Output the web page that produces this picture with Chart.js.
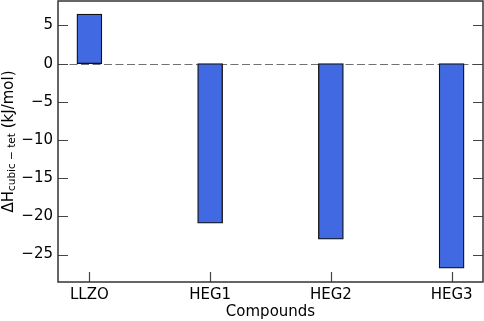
<!DOCTYPE html>
<html>
<head>
<meta charset="utf-8">
<script src="https://cdn.jsdelivr.net/npm/chart.js@4.4.0/dist/chart.umd.min.js"></script>
<style>
  html, body { margin: 0; padding: 0; background: #fff; }
  #wrap { width: 484px; height: 321px; }
</style>
</head>
<body>
<div id="wrap"><canvas id="enthalpyChart" width="484" height="321"></canvas></div>
<script>
const compounds = ['LLZO', 'HEG1', 'HEG2', 'HEG3'];
const deltaH = [6.5, -20.9, -23.0, -26.8];
const yTicks = [-25, -20, -15, -10, -5, 0, 5];

const FONT = 'DejaVu Sans';
const SPINE = '#333';

// frame, inward ticks, zero line, rotated y label with subscript
const framePlugin = {
    id: 'frame',
    beforeDatasetsDraw(chart) {
        const { ctx, chartArea: a, scales } = chart;
        const y0 = Math.round(scales.y.getPixelForValue(0)) + 0.5;
        ctx.save();
        ctx.strokeStyle = '#707070';
        ctx.lineWidth = 1.2;
        ctx.setLineDash([8, 3.5]);
        ctx.beginPath();
        ctx.moveTo(a.left, y0);
        ctx.lineTo(a.right, y0);
        ctx.stroke();
        ctx.restore();
    },
    afterDraw(chart) {
        const { ctx, chartArea: a, scales } = chart;
        ctx.save();
        ctx.strokeStyle = '#444';
        ctx.lineWidth = 1.2;
        ctx.beginPath();
        yTicks.forEach(v => {
            const py = Math.round(scales.y.getPixelForValue(v)) + 0.5;
            ctx.moveTo(a.left, py); ctx.lineTo(a.left + 10, py);
            ctx.moveTo(a.right, py); ctx.lineTo(a.right - 10, py);
        });
        compounds.forEach((c, i) => {
            const px = Math.round(scales.x.getPixelForValue(i)) + 0.5;
            ctx.moveTo(px, a.bottom); ctx.lineTo(px, a.bottom - 10);
        });
        ctx.stroke();

        ctx.strokeStyle = SPINE;
        ctx.lineWidth = 1.5;
        ctx.strokeRect(a.left, a.top, a.right - a.left, a.bottom - a.top);

        // y axis title
        const parts = [
            { t: 'ΔH', size: 15, dy: 0 },
            { t: 'cubic − tet', size: 10.5, dy: 3.5 },
            { t: ' (kJ/mol)', size: 15, dy: 0 }
        ];
        let total = 0;
        parts.forEach(p => {
            ctx.font = p.size + 'px "' + FONT + '"';
            p.w = ctx.measureText(p.t).width;
            total += p.w;
        });
        ctx.translate(9, (a.top + a.bottom) / 2);
        ctx.rotate(-Math.PI / 2);
        ctx.fillStyle = '#000';
        ctx.textBaseline = 'middle';
        ctx.textAlign = 'left';
        let x = -total / 2;
        parts.forEach(p => {
            ctx.font = p.size + 'px "' + FONT + '"';
            ctx.fillText(p.t, x, p.dy);
            x += p.w;
        });
        ctx.restore();
    }
};

const ctx = document.getElementById('enthalpyChart').getContext('2d');
new Chart(ctx, {
    type: 'bar',
    data: {
        datasets: [{
            data: deltaH.map((v, i) => ({ x: i, y: v })),
            backgroundColor: '#4169E1',
            borderColor: '#111',
            borderWidth: 1.3,
            borderSkipped: false,
            barThickness: 25
        }]
    },
    options: {
        responsive: false,
        animation: false,
        layout: { padding: { top: 1, right: 1, left: 0, bottom: 0 } },
        plugins: {
            legend: { display: false },
            tooltip: { enabled: false }
        },
        scales: {
            x: {
                type: 'linear',
                min: -0.26,
                max: 3.26,
                offset: false,
                grid: { display: false, drawTicks: false },
                border: { display: false },
                ticks: {
                    stepSize: 1,
                    includeBounds: false,
                    autoSkip: false,
                    maxRotation: 0,
                    padding: 4,
                    color: '#000',
                    font: { family: FONT, size: 15 },
                    callback: v => compounds[v] ?? ''
                },
                title: {
                    display: true,
                    text: 'Compounds',
                    color: '#000',
                    font: { family: FONT, size: 15 },
                    padding: { top: 0, bottom: 0 }
                },
                afterFit: s => { s.height = 39; s.paddingLeft = 0; s.paddingRight = 0; }
            },
            y: {
                min: -28.6,
                max: 8.2,
                grid: { display: false, drawTicks: false },
                border: { display: false },
                ticks: {
                    stepSize: 5,
                    includeBounds: false,
                    padding: 5,
                    color: '#000',
                    font: { family: FONT, size: 15 },
                    callback: v => v < 0 ? '−' + Math.abs(v) : String(v)
                },
                afterFit: s => { s.width = 58; s.paddingTop = 0; s.paddingBottom = 0; }
            }
        }
    },
    plugins: [framePlugin]
});
</script>
</body>
</html>
